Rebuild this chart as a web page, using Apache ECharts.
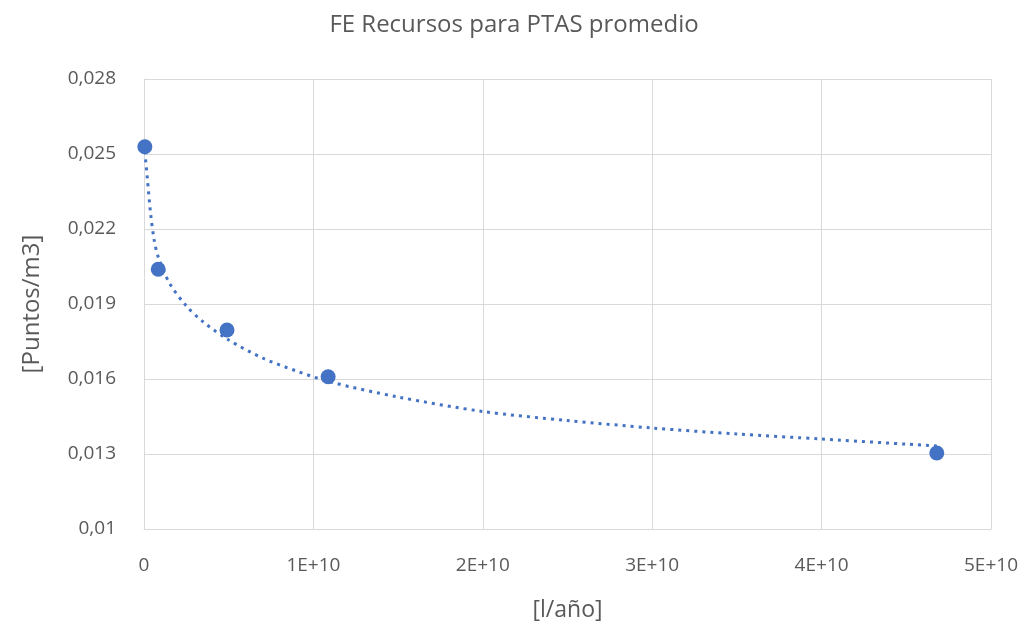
<!DOCTYPE html>
<html><head><meta charset="utf-8">
<script src="https://cdn.jsdelivr.net/npm/echarts@6/dist/echarts.min.js"></script>
<style>html,body{margin:0;padding:0;background:#fff}#c{width:1028px;height:631px}</style>
</head><body><div id="c"></div>
<script>
const pointX = [5e7, 8.4e8, 4.9e9, 1.087e10, 4.68e10];
const pointY = [0.02529, 0.02039, 0.01796, 0.01609, 0.01304];
const trendX = [5e7, 2e8, 4e8, 6e8, 8.4e8, 1.5e9, 2.5e9, 3.5e9, 5e9, 7e9, 9e9, 1.1e10, 1.5e10, 2e10, 2.5e10, 3e10, 3.5e10, 4e10, 4.68e10];
const trendY = [0.0251, 0.0240, 0.02256, 0.02156, 0.02088, 0.01984, 0.01892, 0.01828, 0.01756, 0.01684, 0.01632, 0.01588, 0.01528, 0.01470, 0.01434, 0.01404, 0.0138, 0.0136, 0.01332];
const xTickLabels = ['0', '1E+10', '2E+10', '3E+10', '4E+10', '5E+10'];
const yTickLabels = ['0,01', '0,013', '0,016', '0,019', '0,022', '0,025', '0,028'];

const font = '"Open Sans", "Liberation Sans", sans-serif';
const grey = '#595959';
const blue = '#4472C4';
const chart = echarts.init(document.getElementById('c'), null, {renderer: 'canvas'});
chart.setOption({
  animation: false,
  title: {
    text: 'FE Recursos para PTAS promedio',
    left: 'center', top: 8,
    textStyle: {fontFamily: font, fontSize: 24, fontWeight: 'normal', color: grey}
  },
  grid: {left: 144, right: 37, top: 79, bottom: 102},
  xAxis: {
    type: 'value', min: 0, max: 5e10, interval: 1e10,
    name: '[l/año]', nameLocation: 'middle', nameGap: 70,
    nameTextStyle: {fontFamily: font, fontSize: 23, color: grey},
    axisLine: {show: true, lineStyle: {color: '#d9d9d9', width: 1}},
    axisTick: {show: false},
    axisLabel: {fontFamily: font, fontSize: 19, color: grey, margin: 27,
      formatter: v => xTickLabels[Math.round(v / 1e10)]},
    splitLine: {show: true, lineStyle: {color: '#d9d9d9', width: 1}}
  },
  yAxis: {
    type: 'value', min: 0.01, max: 0.028, interval: 0.003,
    name: '[Puntos/m3]', nameLocation: 'middle', nameGap: 100, nameRotate: 90,
    nameTextStyle: {fontFamily: font, fontSize: 24, color: grey},
    axisLine: {show: true, lineStyle: {color: '#d9d9d9', width: 1}},
    axisTick: {show: false},
    axisLabel: {fontFamily: font, fontSize: 19, color: grey, margin: 28,
      formatter: v => yTickLabels[Math.round((v - 0.01) / 0.003)]},
    splitLine: {show: true, lineStyle: {color: '#d9d9d9', width: 1}}
  },
  series: [
    {
      type: 'line', smooth: 0.3, showSymbol: false, silent: true,
      data: trendX.map((x, i) => [x, trendY[i]]),
      lineStyle: {color: blue, width: 3, type: [3, 5], cap: 'butt', opacity: 1},
      z: 2
    },
    {
      type: 'scatter', symbol: 'circle', symbolSize: 15,
      data: pointX.map((x, i) => [x, pointY[i]]),
      itemStyle: {color: blue, opacity: 1},
      z: 3
    }
  ]
});
</script></body></html>
